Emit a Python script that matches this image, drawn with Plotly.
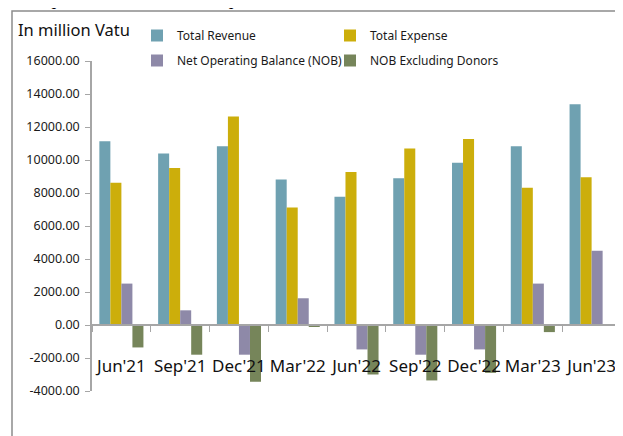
import plotly.graph_objects as go

quarters = ["Jun'21", "Sep'21", "Dec'21", "Mar'22", "Jun'22", "Sep'22", "Dec'22", "Mar'23", "Jun'23"]
total_revenue = [11130, 10390, 10830, 8820, 7770, 8900, 9840, 10830, 13380]
total_expense = [8620, 9510, 12630, 7120, 9270, 10700, 11270, 8320, 8960]
nob = [2510, 890, -1800, 1620, -1480, -1800, -1480, 2510, 4500]
nob_ex_donors = [-1360, -1800, -3440, -100, -3000, -3360, -2900, -430, 0]
y_ticks = [-4000, -2000, 0, 2000, 4000, 6000, 8000, 10000, 12000, 14000, 16000]

OFF = 8  # page body margin
W, H = 623 - OFF, 436 - OFF
# plot area in page pixels: x 92..621, y 61..391
PL, PR, PT, PB = 92, 621, 61, 391
L, R, T, B = PL - OFF, W - (PR - OFF), PT - OFF, H - (PB - OFF)
pw, ph = PR - PL, PB - PT


def px(p):
    return (p - PL) / pw


def py(p):
    return (PB - p) / ph


font = "Noto Sans, Open Sans, sans-serif"
fig = go.Figure()
series = [
    ("Total Revenue", total_revenue, "#6FA1B1", "legend"),
    ("Total Expense", total_expense, "#CCAE0B", "legend"),
    ("Net Operating Balance (NOB)", nob, "#8E89A8", "legend2"),
    ("NOB Excluding Donors", nob_ex_donors, "#76855A", "legend2"),
]
for name, vals, col, lg in series:
    fig.add_trace(go.Bar(x=quarters, y=vals, name=name, marker_color=col,
                         marker_line_width=0, legend=lg))

fig.update_layout(
    width=W, height=H,
    margin=dict(l=L, r=R, t=T, b=B, autoexpand=False),
    plot_bgcolor="white", paper_bgcolor="white",
    barmode="group", bargap=0.25, bargroupgap=0,
    font=dict(family=font, color="#1a1a1a"),
    legend=dict(orientation="h", x=px(137), y=py(21), xanchor="left", yanchor="top",
                entrywidth=148, entrywidthmode="pixels", font=dict(size=12),
                bgcolor="rgba(0,0,0,0)", itemwidth=30),
    legend2=dict(orientation="h", x=px(137), y=py(46), xanchor="left", yanchor="top",
                 entrywidth=148, entrywidthmode="pixels", font=dict(size=12),
                 bgcolor="rgba(0,0,0,0)", itemwidth=30),
    xaxis=dict(anchor="free", position=4000 / 20000, showline=True, linecolor="#a6a6a6",
               linewidth=2, ticks="outside", tickson="boundaries", ticklen=6,
               tickcolor="#a6a6a6", showgrid=False, zeroline=False, tickangle=0,
               automargin=False,
               tickfont=dict(size=17, color="#111"), ticklabelstandoff=26),
    yaxis=dict(range=[-4000, 16000], tickvals=y_ticks, automargin=False,
               ticktext=[f"{v:.2f}" for v in y_ticks], showline=True,
               linecolor="#a6a6a6", linewidth=1.5, ticks="outside", ticklen=5,
               tickcolor="#a6a6a6", showgrid=False, zeroline=False,
               tickfont=dict(size=12.5, color="#1a1a1a"), ticklabelstandoff=3),
    showlegend=True,
)

fig.add_annotation(text="In million Vatu", xref="paper", yref="paper", x=px(16), y=py(30),
                   xanchor="left", yanchor="middle", showarrow=False,
                   font=dict(size=16.5, family=font, color="#111"))
fig.add_annotation(text="June quarter 2021 to June quarter 2023", xref="paper", yref="paper",
                   x=px(0), y=py(11), xanchor="left", yanchor="bottom", showarrow=False,
                   font=dict(size=21, family="Liberation Serif, serif", color="#000"))
fig.add_shape(type="rect", xref="paper", yref="paper", x0=px(12), x1=px(660), y0=py(480),
              y1=py(11), line=dict(color="#8c8c8c", width=1.5), fillcolor="rgba(0,0,0,0)",
              layer="below")

fig.write_html("out.html")
